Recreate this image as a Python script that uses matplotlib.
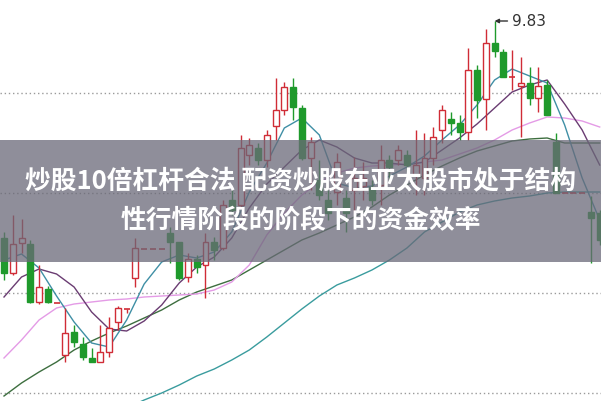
import matplotlib
matplotlib.use('Agg')
import matplotlib.pyplot as plt
from matplotlib.patches import Rectangle
import numpy as np

plt.rcParams['font.family'] = ['Noto Sans CJK SC', 'DejaVu Sans']

# OHLC (price units)
opens = [8.745, 8.57, 8.72, 8.715, 8.425, 8.49, 8.42, 8.16, 8.275, 8.215,
         8.145, 8.125, 8.175, 8.325, 8.39, 8.545, 8.69, 8.69, 8.69, 8.77,
         8.725, 8.55, 8.64, 8.61, 8.725, 8.695, 8.935, 8.91, 9.16, 9.195,
         9.135, 9.305, 9.385, 9.50, 9.395, 9.145, 9.035, 8.935, 8.975, 8.945,
         8.985, 9.005, 9.00, 9.01, 9.135, 9.135, 9.16, 9.06, 9.045, 9.145,
         9.285, 9.34, 9.32, 9.275, 9.585, 9.44, 9.72, 9.675, 9.55, 9.505,
         9.52, 9.445, 9.51, 9.225, 8.97, 8.97, 8.97, 8.875, 8.87]
closes = [8.57, 8.715, 8.745, 8.425, 8.50, 8.425, 8.42, 8.27, 8.225, 8.15,
          8.125, 8.175, 8.295, 8.395, 8.39, 8.695, 8.69, 8.69, 8.69, 8.725,
          8.545, 8.64, 8.60, 8.725, 8.685, 8.91, 8.885, 9.195, 9.21, 9.135,
          9.26, 9.385, 9.50, 9.40, 9.145, 9.225, 8.96, 8.87, 9.125, 8.87,
          9.045, 9.045, 8.935, 9.135, 9.10, 9.185, 9.11, 9.11, 9.145, 9.25,
          9.385, 9.32, 9.275, 9.585, 9.435, 9.72, 9.68, 9.55, 9.55, 9.52,
          9.445, 9.505, 9.36, 8.97, 8.97, 8.97, 8.97, 8.845, 8.735]
highs = [8.775, 8.86, 8.84, 8.735, 8.61, 8.505, 8.42, 8.395, 8.31, 8.25,
         8.195, 8.31, 8.35, 8.405, 8.39, 8.745, 8.69, 8.69, 8.69, 8.80,
         8.725, 8.67, 8.66, 8.77, 8.75, 8.935, 8.985, 9.26, 9.245, 9.22,
         9.285, 9.545, 9.525, 9.545, 9.41, 9.25, 9.135, 8.985, 9.17, 8.985,
         9.15, 9.125, 9.035, 9.21, 9.16, 9.21, 9.185, 9.285, 9.27, 9.30,
         9.41, 9.375, 9.36, 9.695, 9.61, 9.79, 9.83, 9.69, 9.685, 9.65,
         9.60, 9.60, 9.535, 9.27, 8.97, 8.97, 8.97, 8.955, 8.885]
lows = [8.535, 8.56, 8.67, 8.42, 8.415, 8.42, 8.42, 8.125, 8.20, 8.135,
        8.125, 8.125, 8.15, 8.285, 8.37, 8.50, 8.69, 8.69, 8.69, 8.62,
        8.535, 8.525, 8.57, 8.445, 8.635, 8.685, 8.86, 8.895, 9.11, 9.11,
        9.10, 9.235, 9.36, 9.335, 9.135, 8.985, 8.935, 8.835, 8.91, 8.775,
        8.87, 8.935, 8.91, 8.91, 9.035, 9.11, 9.075, 8.96, 8.96, 9.11,
        9.22, 9.26, 9.235, 9.235, 9.345, 9.285, 9.65, 9.55, 9.485, 9.25,
        9.41, 9.375, 9.36, 8.97, 8.97, 8.97, 8.97, 8.62, 8.71]

# moving averages sampled every second bar
ma_idx = list(range(0, 69, 2))
ma5 = [8.635, 8.665, 8.595, 8.455, 8.325, 8.22, 8.20, 8.335, 8.515, 8.625,
       8.66, 8.645, 8.675, 8.775, 8.975, 9.12, 9.295, 9.345, 9.26, 9.02,
       8.995, 9.005, 9.055, 9.10, 9.155, 9.235, 9.31, 9.41, 9.535, 9.59,
       9.555, 9.52, 9.31, 9.045, 8.835]
ma10 = [8.45, 8.55, 8.59, 8.565, 8.50, 8.375, 8.29, 8.28, 8.33, 8.41,
        8.52, 8.60, 8.65, 8.745, 8.895, 9.015, 9.10, 9.185, 9.235, 9.20,
        9.145, 9.12, 9.12, 9.11, 9.125, 9.185, 9.245, 9.315, 9.395, 9.475,
        9.51, 9.535, 9.415, 9.285, 9.11]
ma20 = [8.145, 8.235, 8.335, 8.395, 8.415, 8.425, 8.435, 8.44, 8.45, 8.455,
        8.46, 8.465, 8.485, 8.525, 8.61, 8.76, 8.87, 8.96, 9.025, 9.07,
        9.095, 9.105, 9.11, 9.115, 9.125, 9.135, 9.165, 9.195, 9.235, 9.285,
        9.32, 9.35, 9.345, 9.33, 9.30]
ma30 = [7.955, 8.02, 8.075, 8.125, 8.185, 8.23, 8.27, 8.305, 8.345, 8.385,
        8.435, 8.475, 8.505, 8.535, 8.585, 8.635, 8.685, 8.735, 8.77, 8.81,
        8.85, 8.90, 8.96, 9.01, 9.06, 9.105, 9.145, 9.18, 9.205, 9.23,
        9.24, 9.245, 9.22, 9.22, 9.22]
ma60_idx = list(range(14, 69, 2))
ma60 = [7.895, 7.935, 7.97, 8.01, 8.055, 8.09, 8.135, 8.185, 8.25, 8.32,
        8.39, 8.455, 8.51, 8.545, 8.585, 8.635, 8.695, 8.775, 8.825, 8.875,
        8.91, 8.93, 8.945, 8.955, 8.97, 8.975, 8.975, 8.975]

grid_levels = [9.47, 8.97, 8.47, 7.97]

title_1 = '炒股10倍杠杆合法 配资炒股在亚太股市处于结构'
title_2 = '性行情阶段的阶段下的资金效率'

RED = '#d02c36'
GREEN = '#1f9a2c'

fig = plt.figure(figsize=(6.01, 4.01), dpi=100)
ax = fig.add_axes([0, 0, 1, 1])
ax.set_xlim(-0.457, 68.15)
ax.set_ylim(7.93, 9.935)
ax.axis('off')

for g in grid_levels:
    ax.axhline(g, color='#9a9a9a', lw=1, ls=(0, (1, 2)), zorder=0)

# MA lines
ax.plot(ma60_idx, ma60, color='#3a9c9e', lw=1, zorder=1)
ax.plot(ma_idx, ma30, color='#3d6e3f', lw=1, zorder=1)
ax.plot(ma_idx, ma20, color='#e49be6', lw=1, zorder=1)
ax.plot(ma_idx, ma10, color='#6a3c72', lw=1, zorder=1)
ax.plot(ma_idx, ma5, color='#3f8fa5', lw=1, zorder=1)

# candles
w = 0.68
x = np.arange(len(opens))
for i in x:
    o, c, h, l = opens[i], closes[i], highs[i], lows[i]
    up = c >= o
    col = RED if up else GREEN
    ax.vlines(i, l, h, color=col, lw=1, zorder=2)
    if o == c:
        ax.hlines(o, i - w / 2, i + w / 2, color=col, lw=1.2, zorder=3)
    elif up:
        ax.bar(i, c - o, w, bottom=o, facecolor='white', edgecolor=col, lw=1, zorder=3)
    else:
        ax.bar(i, o - c, w, bottom=c, facecolor=col, edgecolor=col, lw=1, zorder=3)

# max label
imax = int(np.argmax(highs))
ax.annotate('%.2f' % highs[imax], xy=(imax, highs[imax]), xytext=(imax + 1.95, highs[imax]),
            fontsize=11, color='#333333', va='center', ha='left', family='DejaVu Sans',
            arrowprops=dict(arrowstyle='-|>', color='#333333', lw=1, shrinkA=1, shrinkB=0,
                            mutation_scale=6), zorder=4)

# banner
fig.patches.append(Rectangle((0, 0.3466), 1, 0.3043, transform=fig.transFigure,
                             facecolor='#6a6978', alpha=0.75, edgecolor='none', zorder=5))
fig.text(0.5, 0.5486, title_1, color='white', fontsize=18.5, fontweight='bold',
         ha='center', va='center', zorder=6)
fig.text(0.5, 0.449, title_2, color='white', fontsize=18.5, fontweight='bold',
         ha='center', va='center', zorder=6)

fig.savefig('out.png', dpi=100)
